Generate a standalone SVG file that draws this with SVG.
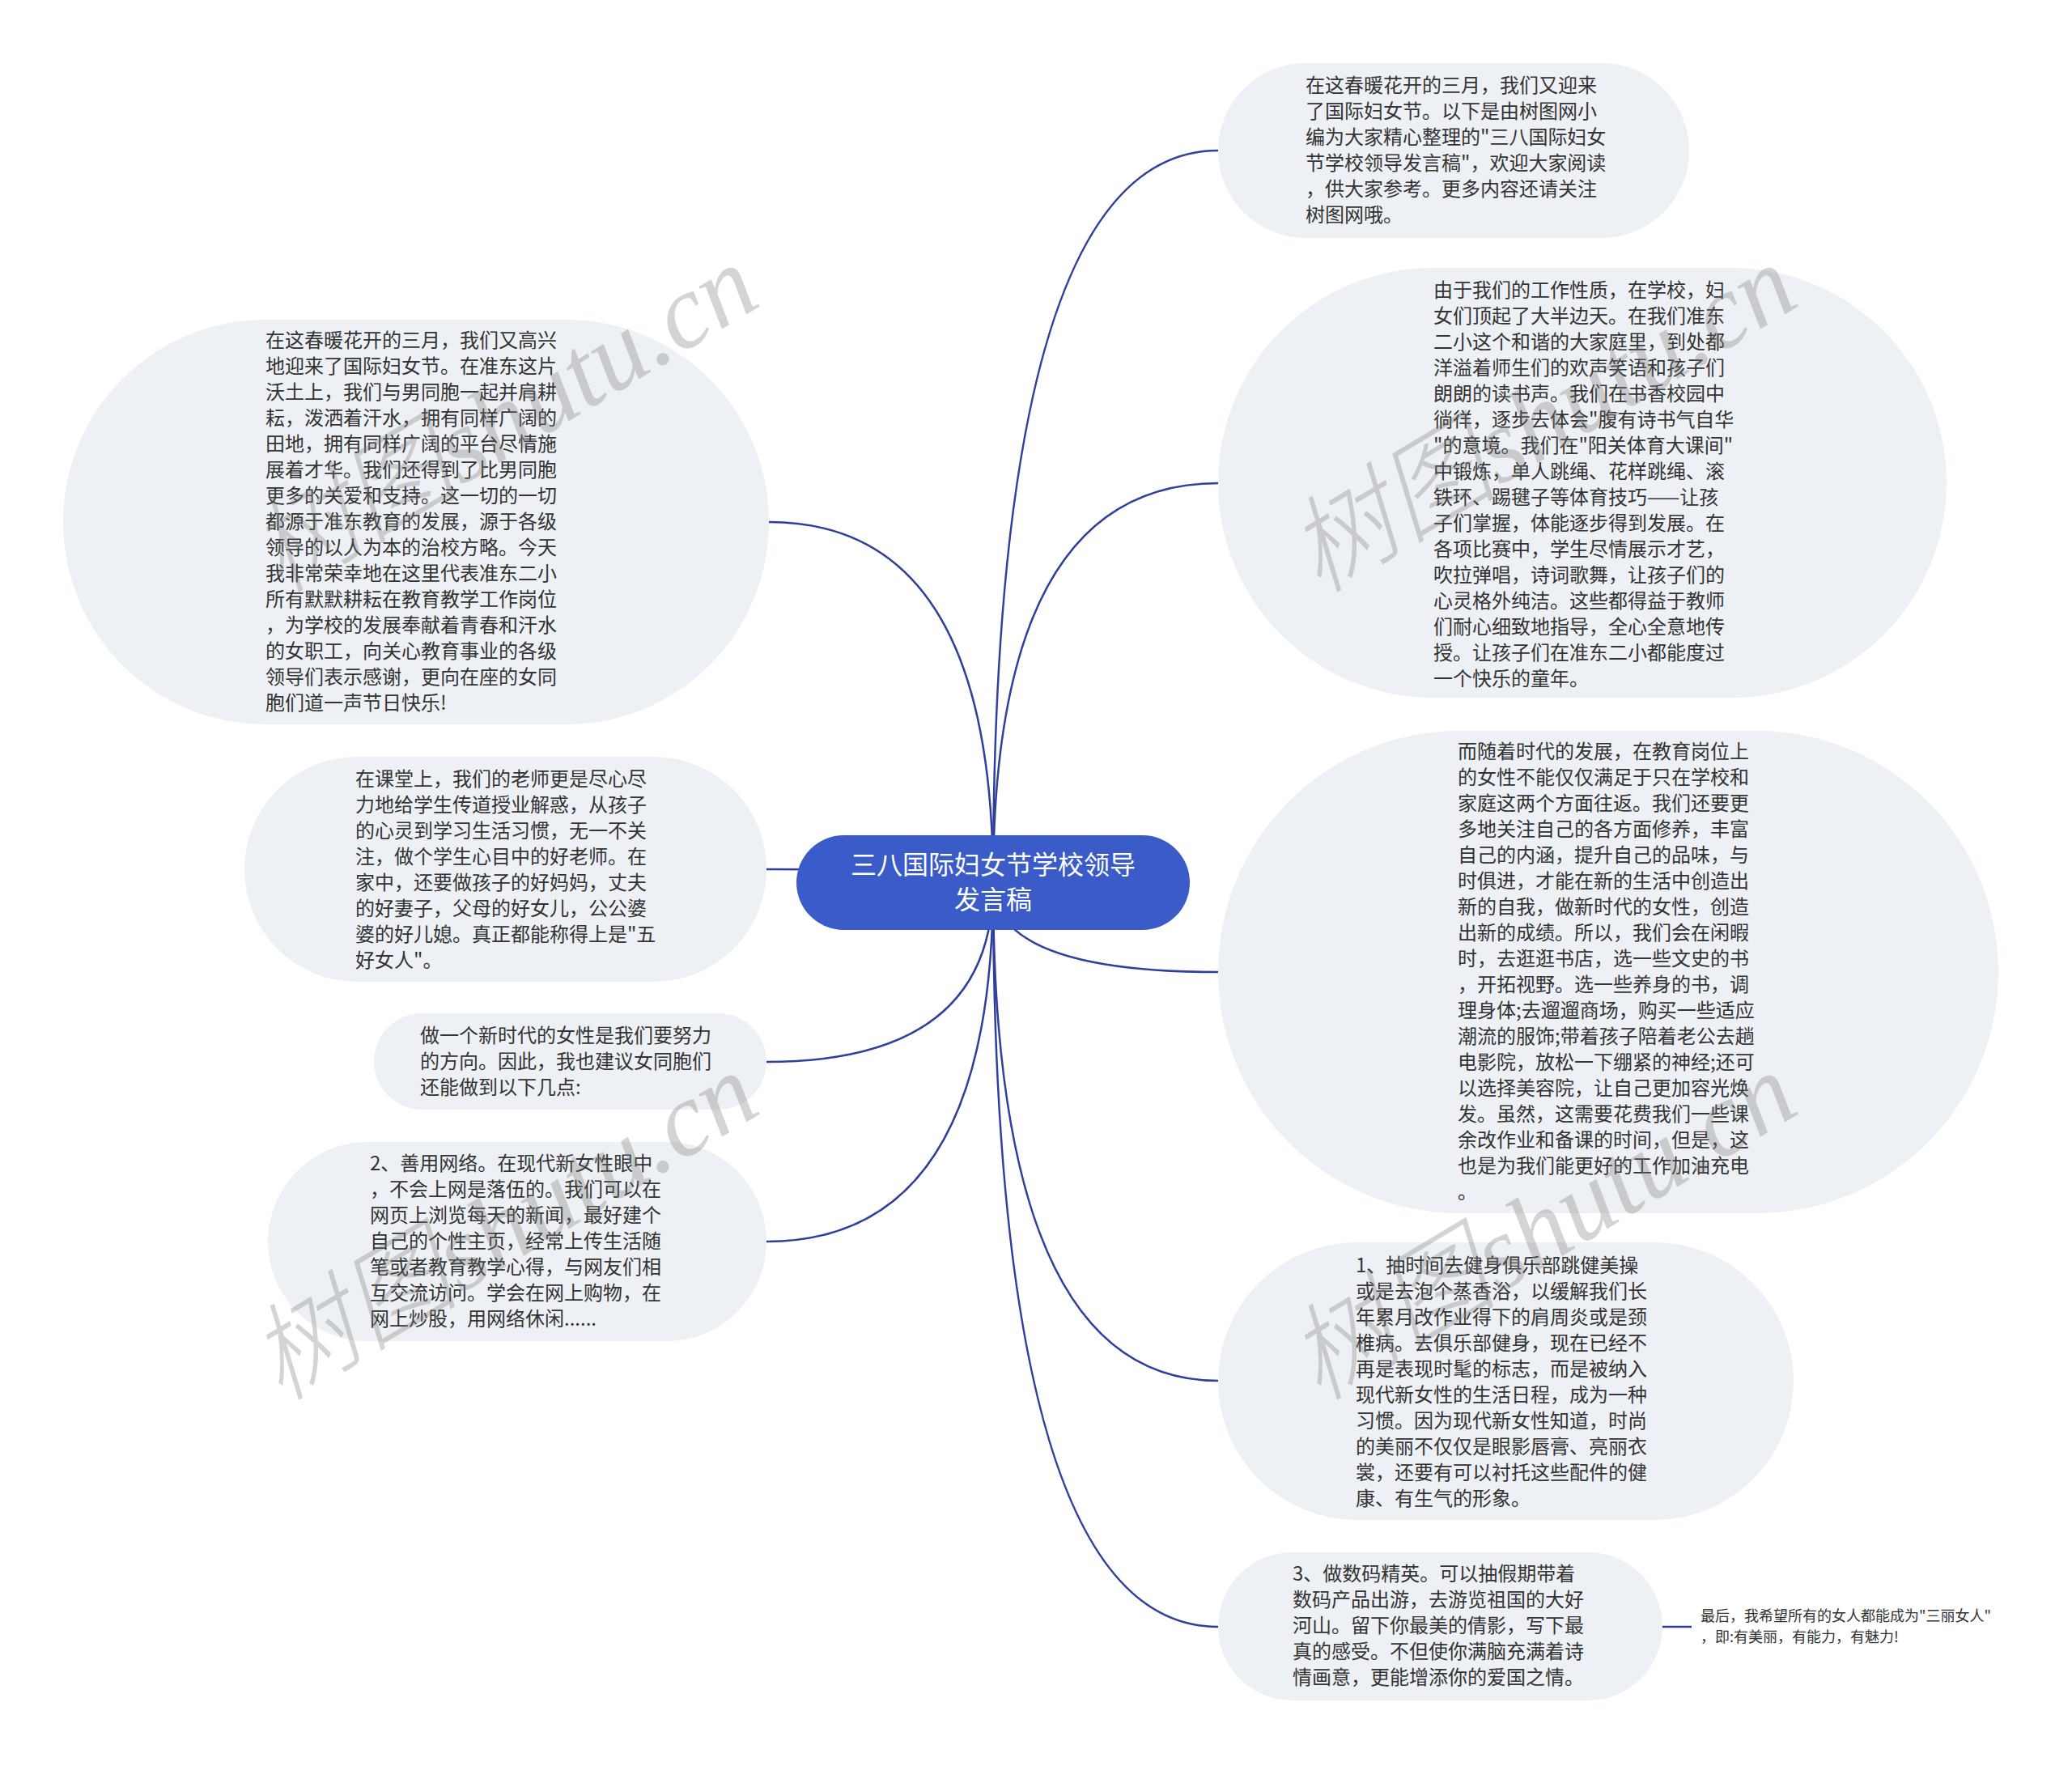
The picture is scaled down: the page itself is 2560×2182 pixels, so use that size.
<svg xmlns="http://www.w3.org/2000/svg" width="2560" height="2182" viewBox="0 0 2560 2182">
<defs>
<style>
.bubble{fill:#edf0f4;}
.t{font-family:"Noto Sans CJK SC","Noto Sans",sans-serif;font-size:24px;fill:#333333;}
.small{font-family:"Noto Sans CJK SC","Noto Sans",sans-serif;font-size:18px;fill:#333333;}
.ct{font-family:"Noto Sans CJK SC","Noto Sans",sans-serif;font-size:32px;fill:#ffffff;text-anchor:middle;}
.edge{fill:none;stroke:#2f3f9c;stroke-width:2.5;}
.wm{font-family:"Liberation Serif","Noto Sans CJK SC",serif;font-style:italic;font-weight:300;font-size:130px;fill:#7a7a7a;fill-opacity:0.32;}
</style>
</defs>
<rect width="2560" height="2182" fill="#ffffff"/>
<g id="connectors">
<path class="edge" d="M1227 1091 Q1227 186 1505 186"/>
<path class="edge" d="M1227 1091 Q1227 597 1505 597"/>
<path class="edge" d="M1227 1091 Q1227 1201 1505 1201"/>
<path class="edge" d="M1227 1091 Q1227 1706 1505 1706"/>
<path class="edge" d="M1227 1091 Q1227 2010 1505 2010"/>
<path class="edge" d="M1227 1091 Q1227 645 950 645"/>
<path class="edge" d="M1227 1091 Q1227 1074 947 1074"/>
<path class="edge" d="M1227 1091 Q1227 1312 947 1312"/>
<path class="edge" d="M1227 1091 Q1227 1534 947 1534"/>
<path class="edge" d="M2054 2010 L2090 2010"/>
</g>
<g id="center">
<rect x="984" y="1032" width="486" height="117" rx="58.5" fill="#3a5bc8"/>
<text class="ct" x="1227" y="1080">三八国际妇女节学校领导</text>
<text class="ct" x="1227" y="1123">发言稿</text>
</g>
<g id="r1">
<rect class="bubble" x="1505" y="78" width="582" height="216" rx="108"/>
<text class="t" x="1613" y="114">在这春暖花开的三月，我们又迎来</text>
<text class="t" x="1613" y="146">了国际妇女节。以下是由树图网小</text>
<text class="t" x="1613" y="178">编为大家精心整理的"三八国际妇女</text>
<text class="t" x="1613" y="210">节学校领导发言稿"，欢迎大家阅读</text>
<text class="t" x="1613" y="242">，供大家参考。更多内容还请关注</text>
<text class="t" x="1613" y="274">树图网哦。</text>
</g>
<g id="r2">
<rect class="bubble" x="1505" y="331" width="900" height="531" rx="265.5"/>
<text class="t" x="1771" y="367">由于我们的工作性质，在学校，妇</text>
<text class="t" x="1771" y="399">女们顶起了大半边天。在我们准东</text>
<text class="t" x="1771" y="431">二小这个和谐的大家庭里，到处都</text>
<text class="t" x="1771" y="463">洋溢着师生们的欢声笑语和孩子们</text>
<text class="t" x="1771" y="495">朗朗的读书声。我们在书香校园中</text>
<text class="t" x="1771" y="527">徜徉，逐步去体会"腹有诗书气自华</text>
<text class="t" x="1771" y="559">"的意境。我们在"阳关体育大课间"</text>
<text class="t" x="1771" y="591">中锻炼，单人跳绳、花样跳绳、滚</text>
<text class="t" x="1771" y="623">铁环、踢毽子等体育技巧——让孩</text>
<text class="t" x="1771" y="655">子们掌握，体能逐步得到发展。在</text>
<text class="t" x="1771" y="687">各项比赛中，学生尽情展示才艺，</text>
<text class="t" x="1771" y="719">吹拉弹唱，诗词歌舞，让孩子们的</text>
<text class="t" x="1771" y="751">心灵格外纯洁。这些都得益于教师</text>
<text class="t" x="1771" y="783">们耐心细致地指导，全心全意地传</text>
<text class="t" x="1771" y="815">授。让孩子们在准东二小都能度过</text>
<text class="t" x="1771" y="847">一个快乐的童年。</text>
</g>
<g id="r3">
<rect class="bubble" x="1505" y="903" width="964" height="596" rx="298"/>
<text class="t" x="1801" y="937">而随着时代的发展，在教育岗位上</text>
<text class="t" x="1801" y="969">的女性不能仅仅满足于只在学校和</text>
<text class="t" x="1801" y="1001">家庭这两个方面往返。我们还要更</text>
<text class="t" x="1801" y="1033">多地关注自己的各方面修养，丰富</text>
<text class="t" x="1801" y="1065">自己的内涵，提升自己的品味，与</text>
<text class="t" x="1801" y="1097">时俱进，才能在新的生活中创造出</text>
<text class="t" x="1801" y="1129">新的自我，做新时代的女性，创造</text>
<text class="t" x="1801" y="1161">出新的成绩。所以，我们会在闲暇</text>
<text class="t" x="1801" y="1193">时，去逛逛书店，选一些文史的书</text>
<text class="t" x="1801" y="1225">，开拓视野。选一些养身的书，调</text>
<text class="t" x="1801" y="1257">理身体;去遛遛商场，购买一些适应</text>
<text class="t" x="1801" y="1289">潮流的服饰;带着孩子陪着老公去趟</text>
<text class="t" x="1801" y="1321">电影院，放松一下绷紧的神经;还可</text>
<text class="t" x="1801" y="1353">以选择美容院，让自己更加容光焕</text>
<text class="t" x="1801" y="1385">发。虽然，这需要花费我们一些课</text>
<text class="t" x="1801" y="1417">余改作业和备课的时间，但是，这</text>
<text class="t" x="1801" y="1449">也是为我们能更好的工作加油充电</text>
<text class="t" x="1801" y="1481">。</text>
</g>
<g id="r4">
<rect class="bubble" x="1505" y="1535" width="711" height="343" rx="171.5"/>
<text class="t" x="1675" y="1572">1、抽时间去健身俱乐部跳健美操</text>
<text class="t" x="1675" y="1604">或是去泡个蒸香浴，以缓解我们长</text>
<text class="t" x="1675" y="1636">年累月改作业得下的肩周炎或是颈</text>
<text class="t" x="1675" y="1668">椎病。去俱乐部健身，现在已经不</text>
<text class="t" x="1675" y="1700">再是表现时髦的标志，而是被纳入</text>
<text class="t" x="1675" y="1732">现代新女性的生活日程，成为一种</text>
<text class="t" x="1675" y="1764">习惯。因为现代新女性知道，时尚</text>
<text class="t" x="1675" y="1796">的美丽不仅仅是眼影唇膏、亮丽衣</text>
<text class="t" x="1675" y="1828">裳，还要有可以衬托这些配件的健</text>
<text class="t" x="1675" y="1860">康、有生气的形象。</text>
</g>
<g id="r5">
<rect class="bubble" x="1505" y="1918" width="549" height="183" rx="91.5"/>
<text class="t" x="1597" y="1953">3、做数码精英。可以抽假期带着</text>
<text class="t" x="1597" y="1985">数码产品出游，去游览祖国的大好</text>
<text class="t" x="1597" y="2017">河山。留下你最美的倩影，写下最</text>
<text class="t" x="1597" y="2049">真的感受。不但使你满脑充满着诗</text>
<text class="t" x="1597" y="2081">情画意，更能增添你的爱国之情。</text>
</g>
<g id="r6">
<text class="small" x="2101" y="2003">最后，我希望所有的女人都能成为"三丽女人"</text>
<text class="small" x="2101" y="2029">，即:有美丽，有能力，有魅力!</text>
</g>
<g id="l1">
<rect class="bubble" x="78" y="395" width="872" height="500" rx="250"/>
<text class="t" x="328" y="429">在这春暖花开的三月，我们又高兴</text>
<text class="t" x="328" y="461">地迎来了国际妇女节。在准东这片</text>
<text class="t" x="328" y="493">沃土上，我们与男同胞一起并肩耕</text>
<text class="t" x="328" y="525">耘，泼洒着汗水，拥有同样广阔的</text>
<text class="t" x="328" y="557">田地，拥有同样广阔的平台尽情施</text>
<text class="t" x="328" y="589">展着才华。我们还得到了比男同胞</text>
<text class="t" x="328" y="621">更多的关爱和支持。这一切的一切</text>
<text class="t" x="328" y="653">都源于准东教育的发展，源于各级</text>
<text class="t" x="328" y="685">领导的以人为本的治校方略。今天</text>
<text class="t" x="328" y="717">我非常荣幸地在这里代表准东二小</text>
<text class="t" x="328" y="749">所有默默耕耘在教育教学工作岗位</text>
<text class="t" x="328" y="781">，为学校的发展奉献着青春和汗水</text>
<text class="t" x="328" y="813">的女职工，向关心教育事业的各级</text>
<text class="t" x="328" y="845">领导们表示感谢，更向在座的女同</text>
<text class="t" x="328" y="877">胞们道一声节日快乐!</text>
</g>
<g id="l2">
<rect class="bubble" x="302" y="935" width="645" height="278" rx="139"/>
<text class="t" x="439" y="971">在课堂上，我们的老师更是尽心尽</text>
<text class="t" x="439" y="1003">力地给学生传道授业解惑，从孩子</text>
<text class="t" x="439" y="1035">的心灵到学习生活习惯，无一不关</text>
<text class="t" x="439" y="1067">注，做个学生心目中的好老师。在</text>
<text class="t" x="439" y="1099">家中，还要做孩子的好妈妈，丈夫</text>
<text class="t" x="439" y="1131">的好妻子，父母的好女儿，公公婆</text>
<text class="t" x="439" y="1163">婆的好儿媳。真正都能称得上是"五</text>
<text class="t" x="439" y="1195">好女人"。</text>
</g>
<g id="l3">
<rect class="bubble" x="462" y="1252" width="485" height="119" rx="59.5"/>
<text class="t" x="519" y="1288">做一个新时代的女性是我们要努力</text>
<text class="t" x="519" y="1320">的方向。因此，我也建议女同胞们</text>
<text class="t" x="519" y="1352">还能做到以下几点:</text>
</g>
<g id="l4">
<rect class="bubble" x="331" y="1411" width="616" height="246" rx="123"/>
<text class="t" x="457" y="1446">2、善用网络。在现代新女性眼中</text>
<text class="t" x="457" y="1478">，不会上网是落伍的。我们可以在</text>
<text class="t" x="457" y="1510">网页上浏览每天的新闻，最好建个</text>
<text class="t" x="457" y="1542">自己的个性主页，经常上传生活随</text>
<text class="t" x="457" y="1574">笔或者教育教学心得，与网友们相</text>
<text class="t" x="457" y="1606">互交流访问。学会在网上购物，在</text>
<text class="t" x="457" y="1638">网上炒股，用网络休闲......</text>
</g>
<g id="watermarks">
<text class="wm" text-anchor="middle" transform="translate(645 555) rotate(-31)">树图shutu.cn</text>
<text class="wm" text-anchor="middle" transform="translate(1928 555) rotate(-31)">树图shutu.cn</text>
<text class="wm" text-anchor="middle" transform="translate(645 1553) rotate(-31)">树图shutu.cn</text>
<text class="wm" text-anchor="middle" transform="translate(1928 1553) rotate(-31)">树图shutu.cn</text>
</g>
</svg>
